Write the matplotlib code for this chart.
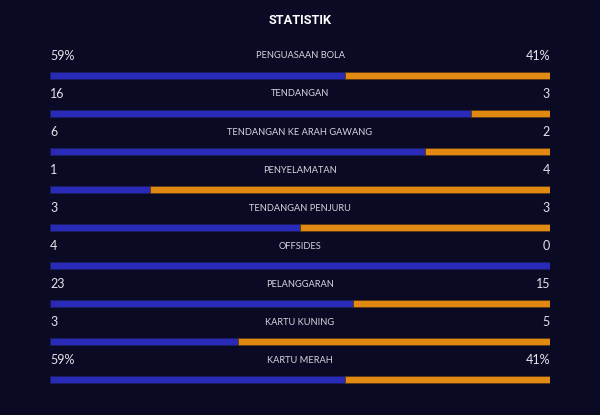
import matplotlib
matplotlib.use("Agg")
import matplotlib.pyplot as plt

categories = ["PENGUASAAN BOLA", "TENDANGAN", "TENDANGAN KE ARAH GAWANG", "PENYELAMATAN",
              "TENDANGAN PENJURU", "OFFSIDES", "PELANGGARAN", "KARTU KUNING", "KARTU MERAH"]
home_values = [59, 16, 6, 1, 3, 4, 23, 3, 59]
away_values = [41, 3, 2, 4, 3, 0, 15, 5, 41]
home_labels = ["59%", "16", "6", "1", "3", "4", "23", "3", "59%"]
away_labels = ["41%", "3", "2", "4", "3", "0", "15", "5", "41%"]
title = "STATISTIK"

BG = "#0a0a24"
BLUE = "#2a2ab8"
ORANGE = "#e08a14"
TXT = "#e2e2ea"

W, H = 600, 415
fig = plt.figure(figsize=(W / 100, H / 100), dpi=100, facecolor=BG)
ax = fig.add_axes([50 / W, 0, 500 / W, 1])
ax.set_facecolor(BG)
ax.set_xlim(0, 1)
ax.set_ylim(H, 0)
ax.axis("off")

top_label = 56
spacing = 38
bar_offset = 19.5
bar_h = 7.5

fig.text(0.5, 1 - 21 / H, title, ha="center", va="center", color="white",
         fontsize=9.2, fontweight="bold", family=["Roboto", "DejaVu Sans"])

for i, cat in enumerate(categories):
    yl = top_label + spacing * i
    yb = yl + bar_offset
    tot = home_values[i] + away_values[i]
    frac = home_values[i] / tot if tot else 0.5
    ax.barh(yb, frac, left=0, height=bar_h, color=BLUE, edgecolor="#1c1c60", linewidth=0.6)
    if frac < 1:
        ax.barh(yb, 1 - frac, left=frac, height=bar_h, color=ORANGE, edgecolor="#5a3a10", linewidth=0.6)
    ax.text(0, yl, home_labels[i], ha="left", va="center", color=TXT, fontsize=9, family=["Lato", "DejaVu Sans"])
    ax.text(1, yl, away_labels[i], ha="right", va="center", color=TXT, fontsize=9, family=["Lato", "DejaVu Sans"])
    ax.text(0.5, yl, cat, ha="center", va="center", color="#d6d6e0", fontsize=6.7, family=["Lato", "DejaVu Sans"])

fig.savefig("out.png", dpi=100, facecolor=BG)
